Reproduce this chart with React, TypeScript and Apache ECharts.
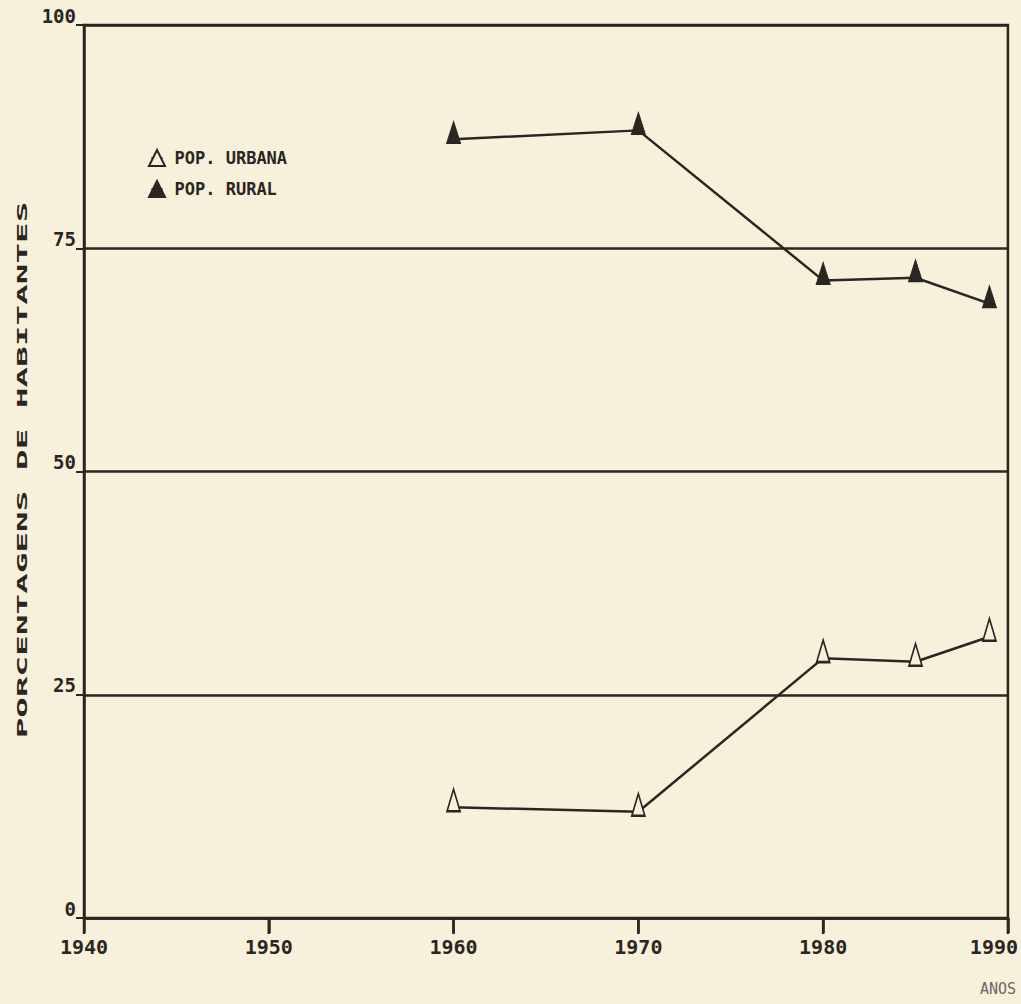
import React, { useEffect, useRef } from "react";
import * as echarts from "echarts";

const years = [1960, 1970, 1980, 1985, 1989];
const popUrbana = [12.4, 11.9, 29.1, 28.7, 31.5];
const popRural = [87.2, 88.2, 71.4, 71.7, 68.8];
const xTicks = [1940, 1950, 1960, 1970, 1980, 1990];
const yTicks = [0, 25, 50, 75, 100];
const seriesNames = ["POP. URBANA", "POP. RURAL"];
const yTitle = "PORCENTAGENS DE HABITANTES";
const xTitle = "ANOS";

const BG = "#f7f1dc";
const INK = "#2a2622";
const MONO = "DejaVu Sans Mono";

export default function App() {
  const ref = useRef<HTMLDivElement>(null);
  useEffect(() => {
    document.body.style.margin = "0";
    const chart = echarts.init(ref.current!, undefined, { renderer: "svg" });
    const pair = (vals: number[]) => years.map((y, i) => [y, vals[i]]);
    chart.setOption({
      animation: false,
      backgroundColor: BG,
      grid: {
        left: 84,
        right: 11,
        top: 25,
        bottom: 86,
        show: true,
        borderColor: INK,
        borderWidth: 2.5,
      },
      legend: {
        orient: "vertical",
        left: 143,
        top: 144,
        itemWidth: 11,
        itemHeight: 20,
        itemGap: 13,
        data: seriesNames,
        textStyle: {
          fontFamily: MONO,
          fontWeight: "bold",
          fontSize: 17,
          color: INK,
          padding: [0, 0, 0, 7],
        },
      },
      xAxis: {
        type: "value",
        min: xTicks[0],
        max: xTicks[xTicks.length - 1],
        interval: 10,
        axisLine: { show: true, onZero: false, lineStyle: { color: INK, width: 2.5 } },
        axisTick: {
          show: true,
          inside: false,
          length: 15,
          lineStyle: { color: INK, width: 2.5 },
        },
        splitLine: { show: false },
        axisLabel: {
          margin: 19,
          fontFamily: MONO,
          fontWeight: "bold",
          fontSize: 20,
          color: INK,
          formatter: (v: number) =>
            v === xTicks[xTicks.length - 1] ? `{r|${v}}` : `${v}`,
          rich: {
            r: {
              fontFamily: MONO,
              fontWeight: "bold",
              fontSize: 20,
              color: INK,
              padding: [0, 28, 0, 0],
            },
          },
        },
        z: 5,
      },
      yAxis: {
        type: "value",
        min: yTicks[0],
        max: yTicks[yTicks.length - 1],
        interval: 25,
        axisLine: { show: true, lineStyle: { color: INK, width: 2.5 } },
        axisTick: { show: true, length: 8, lineStyle: { color: INK, width: 2 } },
        splitLine: { show: true, lineStyle: { color: INK, width: 2.5 } },
        axisLabel: {
          margin: 8,
          fontFamily: MONO,
          fontWeight: "bold",
          fontSize: 19,
          color: INK,
          verticalAlign: "bottom",
          lineHeight: 19,
        },
      },
      series: [
        {
          name: seriesNames[0],
          type: "line",
          data: pair(popUrbana),
          symbol: "triangle",
          symbolSize: [13, 22],
          symbolOffset: [0, -7],
          lineStyle: { color: INK, width: 2.5 },
          itemStyle: { color: BG, borderColor: INK, borderWidth: 2 },
          z: 3,
        },
        {
          name: seriesNames[1],
          type: "line",
          data: pair(popRural),
          symbol: "triangle",
          symbolSize: [14, 22],
          symbolOffset: [0, -7],
          lineStyle: { color: INK, width: 2.5 },
          itemStyle: { color: INK, borderColor: INK, borderWidth: 1 },
          z: 3,
        },
      ],
      graphic: [
        {
          type: "text",
          x: 22,
          y: 470,
          rotation: Math.PI / 2,
          scaleX: 2.45,
          scaleY: 1.05,
          style: {
            text: yTitle,
            fontFamily: MONO,
            fontWeight: "bold",
            fontSize: 14,
            fill: INK,
            textAlign: "center",
            textVerticalAlign: "middle",
          },
        },
        {
          type: "text",
          x: 998,
          y: 989,
          style: {
            text: xTitle,
            fontFamily: MONO,
            fontSize: 15,
            fill: "#6e6862",
            textAlign: "center",
            textVerticalAlign: "middle",
          },
        },
      ],
    });
    const tickLines = xTicks.map((t, i) => {
      const p = chart.convertToPixel({ gridIndex: 0 }, [t, yTicks[0]]) as number[];
      return {
        type: "line",
        id: "xtick" + i,
        silent: true,
        z: 10,
        shape: { x1: p[0], y1: p[1], x2: p[0], y2: p[1] + 16 },
        style: { stroke: INK, lineWidth: 2.5 },
      };
    });
    chart.setOption({ graphic: tickLines });
    return () => chart.dispose();
  }, []);
  return <div ref={ref} style={{ width: 1021, height: 1004 }} />;
}
